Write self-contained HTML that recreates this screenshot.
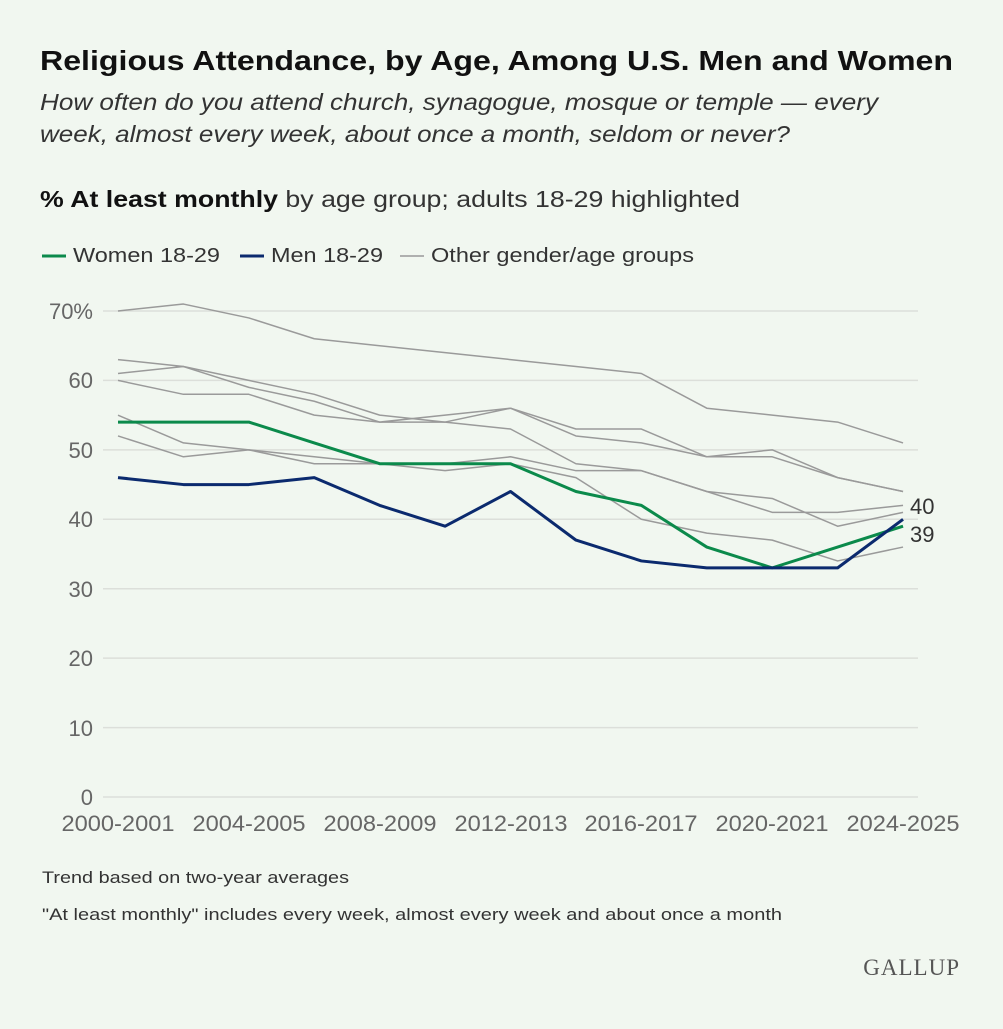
<!DOCTYPE html>
<html><head><meta charset="utf-8"><style>
body{margin:0;width:1003px;height:1024px;background:#f1f7f0;font-family:"Liberation Sans",sans-serif;overflow:hidden}
</style></head><body>
<svg width="1003" height="1024" xmlns="http://www.w3.org/2000/svg" font-family="Liberation Sans, sans-serif">
<rect width="1003" height="1024" fill="#f1f7f0"/>
<text x="40" y="70" font-size="28" font-weight="bold" fill="#111" textLength="913" lengthAdjust="spacingAndGlyphs">Religious Attendance, by Age, Among U.S. Men and Women</text>
<text x="40" y="110" font-size="23" font-style="italic" fill="#333" textLength="838" lengthAdjust="spacingAndGlyphs">How often do you attend church, synagogue, mosque or temple — every</text>
<text x="40" y="142" font-size="23" font-style="italic" fill="#333" textLength="750" lengthAdjust="spacingAndGlyphs">week, almost every week, about once a month, seldom or never?</text>
<text x="40" y="207" font-size="23" fill="#333" textLength="700" lengthAdjust="spacingAndGlyphs"><tspan font-weight="bold" fill="#111">% At least monthly</tspan> by age group; adults 18-29 highlighted</text>
<line x1="42" y1="256" x2="66" y2="256" stroke="#0b8a4b" stroke-width="3"/>
<text x="73" y="262" font-size="20" fill="#333" textLength="147" lengthAdjust="spacingAndGlyphs">Women 18-29</text>
<line x1="240" y1="256" x2="264" y2="256" stroke="#0b2a6e" stroke-width="3"/>
<text x="271" y="262" font-size="20" fill="#333" textLength="112" lengthAdjust="spacingAndGlyphs">Men 18-29</text>
<line x1="400" y1="256" x2="424" y2="256" stroke="#999" stroke-width="1.5"/>
<text x="431" y="262" font-size="20" fill="#333" textLength="263" lengthAdjust="spacingAndGlyphs">Other gender/age groups</text>
<g stroke="#dcdfda" stroke-width="1.5">
<line x1="103" y1="311" x2="918" y2="311"/><line x1="103" y1="380.4" x2="918" y2="380.4"/>
<line x1="103" y1="449.9" x2="918" y2="449.9"/><line x1="103" y1="519.3" x2="918" y2="519.3"/>
<line x1="103" y1="588.7" x2="918" y2="588.7"/><line x1="103" y1="658.1" x2="918" y2="658.1"/>
<line x1="103" y1="727.6" x2="918" y2="727.6"/><line x1="103" y1="797" x2="918" y2="797"/>
</g>
<g font-size="22" fill="#666" text-anchor="end">
<text x="93" y="319">70%</text><text x="93" y="388">60</text><text x="93" y="458">50</text>
<text x="93" y="527">40</text><text x="93" y="597">30</text><text x="93" y="666">20</text>
<text x="93" y="736">10</text><text x="93" y="805">0</text>
</g>
<g font-size="22" fill="#666" text-anchor="middle">
<text x="118" y="831" textLength="113" lengthAdjust="spacingAndGlyphs">2000-2001</text><text x="249" y="831" textLength="113" lengthAdjust="spacingAndGlyphs">2004-2005</text><text x="380" y="831" textLength="113" lengthAdjust="spacingAndGlyphs">2008-2009</text>
<text x="511" y="831" textLength="113" lengthAdjust="spacingAndGlyphs">2012-2013</text><text x="641" y="831" textLength="113" lengthAdjust="spacingAndGlyphs">2016-2017</text><text x="772" y="831" textLength="113" lengthAdjust="spacingAndGlyphs">2020-2021</text><text x="903" y="831" textLength="113" lengthAdjust="spacingAndGlyphs">2024-2025</text>
</g>
<g id="lines" fill="none" stroke-linejoin="round"></g>
<text x="910" y="514" font-size="22" fill="#333">40</text>
<text x="910" y="542" font-size="22" fill="#333">39</text>
<text x="42" y="883" font-size="17" fill="#333" textLength="307" lengthAdjust="spacingAndGlyphs">Trend based on two-year averages</text>
<text x="42" y="920" font-size="17" fill="#333" textLength="740" lengthAdjust="spacingAndGlyphs">"At least monthly" includes every week, almost every week and about once a month</text>
<text x="960" y="975" font-size="23" font-family="Liberation Serif, serif" fill="#555" text-anchor="end" letter-spacing="1">GALLUP</text>
</svg>
<script>
var X=function(i){return 118+i*65.42},Y=function(v){return 797-v*6.943};
var gray=[[70,71,69,66,65,64,63,62,61,56,55,54,51],[63,62,60,58,55,54,56,53,53,49,50,46,44],[61,62,59,57,54,55,56,52,51,49,49,46,44],[60,58,58,55,54,54,53,48,47,44,43,39,41],[55,51,50,48,48,48,49,47,47,44,41,41,42],[52,49,50,49,48,47,48,46,40,38,37,34,36]];
var W=[54,54,54,51,48,48,48,44,42,36,33,36,39],M=[46,45,45,46,42,39,44,37,34,33,33,33,40];
var g=document.getElementById('lines'),ns='http://www.w3.org/2000/svg';
function add(d,c,w){var p=document.createElementNS(ns,'polyline');p.setAttribute('points',d.map(function(v,i){return X(i)+','+Y(v)}).join(' '));p.setAttribute('stroke',c);p.setAttribute('stroke-width',w);g.appendChild(p);}
gray.forEach(function(d){add(d,'#9a9a9a',1.5)});add(W,'#0b8a4b',3);add(M,'#0b2a6e',3);
</script>
</body></html>
